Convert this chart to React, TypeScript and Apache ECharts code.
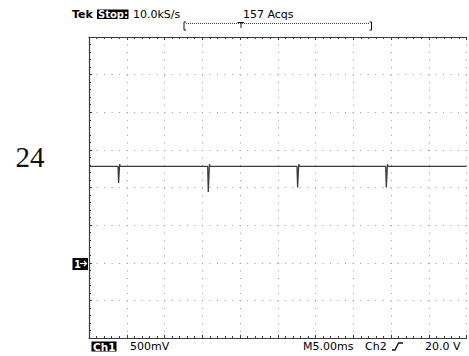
import React, { useEffect, useRef } from "react";
import * as echarts from "echarts";

// Trace samples: time (ms) and Ch1 voltage (V)
const traceTime = [
  0, 3.85, 3.92, 4.05, 4.15,
  15.72, 15.8, 15.95, 16.05,
  27.55, 27.63, 27.78, 27.88,
  39.3, 39.38, 39.53, 39.63,
  50,
];
const traceVolt = [
  1.28, 1.28, 1.06, 1.31, 1.28,
  1.28, 0.94, 1.31, 1.28,
  1.28, 1.0, 1.31, 1.28,
  1.28, 1.0, 1.31, 1.28,
  1.28,
];

const timeMin = 0;
const timeMax = 50; // 10 div x 5.00 ms
const timeStep = 5;
const voltMin = -1;
const voltMax = 3; // 8 div x 500 mV
const voltStep = 0.5;

const headerTexts = ["Tek", "Stop:", "10.0kS/s", "157 Acqs"];
const footerTexts = ["Ch1", "500mV", "M5.00ms", "Ch2", "20.0 V"];
const sideLabel = "24";

const FONT = "DejaVu Sans";
const GRID_COLOR = "#9a9a9a";
const BORDER_COLOR = "#3a3a3a";

export default function App() {
  const ref = useRef<HTMLDivElement>(null);
  useEffect(() => {
    if (!ref.current) return;
    const chart = echarts.init(ref.current, undefined, { renderer: "svg" });
    const dotted = { color: GRID_COLOR, width: 1, type: [1, 6.53] as any };
    const axisCommon = {
      axisLine: { show: true, onZero: false, lineStyle: { color: BORDER_COLOR, width: 1.2 } },
      axisTick: { show: true, inside: true, length: 3, lineStyle: { color: BORDER_COLOR } },
      minorTick: { show: true, splitNumber: 5, length: 2, lineStyle: { color: BORDER_COLOR } },
      axisLabel: { show: false },
    };
    const txt = (x: number, y: number, text: string, extra: any = {}) => ({
      type: "text",
      x,
      y,
      style: {
        text,
        fontFamily: FONT,
        fontSize: 11,
        fill: "#000",
        verticalAlign: "middle",
        ...extra,
      },
    });
    chart.setOption({
      animation: false,
      backgroundColor: "#ffffff",
      grid: { left: 89, top: 37, width: 377.5, height: 301, show: false },
      xAxis: [
        {
          type: "value",
          min: timeMin,
          max: timeMax,
          interval: timeStep,
          position: "bottom",
          ...axisCommon,
          splitLine: { show: true, lineStyle: dotted },
        },
        {
          type: "value",
          min: timeMin,
          max: timeMax,
          interval: timeStep,
          position: "top",
          ...axisCommon,
          splitLine: { show: false },
        },
      ],
      yAxis: [
        {
          type: "value",
          min: voltMin,
          max: voltMax,
          interval: voltStep,
          position: "left",
          ...axisCommon,
          splitLine: { show: true, lineStyle: dotted },
        },
      ],
      series: [
        {
          type: "line",
          xAxisIndex: 0,
          yAxisIndex: 0,
          showSymbol: false,
          symbol: "none",
          lineStyle: { color: "#3c3c3c", width: 1.3 },
          data: traceTime.map((t, i) => [t, traceVolt[i]]),
          z: 5,
        },
      ],
      graphic: [
        // header
        txt(72, 14.5, headerTexts[0], { fontWeight: "bold" }),
        { type: "rect", shape: { x: 97, y: 9.5, width: 31.5, height: 9.5 }, style: { fill: "#000" } },
        txt(98, 14.5, headerTexts[1], { fill: "#fff", fontWeight: "bold", fontSize: 10 }),
        txt(133, 14.5, headerTexts[2]),
        txt(243, 14.5, headerTexts[3]),
        // record bracket
        { type: "polyline", shape: { points: [[186, 22], [184, 22], [184, 30], [186, 30]] }, style: { stroke: "#111", fill: null, lineWidth: 1 } },
        { type: "polyline", shape: { points: [[369.5, 22], [371.5, 22], [371.5, 30], [369.5, 30]] }, style: { stroke: "#111", fill: null, lineWidth: 1 } },
        { type: "line", shape: { x1: 186, y1: 23.5, x2: 369.5, y2: 23.5 }, style: { stroke: "#444", lineWidth: 1, lineDash: [1, 1] } },
        { type: "line", shape: { x1: 237.5, y1: 22.5, x2: 244, y2: 22.5 }, style: { stroke: "#111", lineWidth: 1 } },
        { type: "line", shape: { x1: 241, y1: 22.5, x2: 241, y2: 28 }, style: { stroke: "#111", lineWidth: 1 } },
        // footer
        { type: "rect", shape: { x: 91.5, y: 341.5, width: 25, height: 10 }, style: { fill: "#000" } },
        txt(93, 346.5, footerTexts[0], { fill: "#fff", fontWeight: "bold", fontSize: 10.5 }),
        txt(130, 346.5, footerTexts[1]),
        txt(303, 346.5, footerTexts[2]),
        txt(365, 346.5, footerTexts[3]),
        { type: "polyline", shape: { points: [[392, 350], [395, 350], [398.5, 343], [403, 343]] }, style: { stroke: "#111", fill: null, lineWidth: 1.3 } },
        txt(425, 346.5, footerTexts[4]),
        // channel ground marker
        { type: "rect", shape: { x: 72.5, y: 258, width: 15.5, height: 12 }, style: { fill: "#000" } },
        txt(74, 264, "1", { fill: "#fff", fontWeight: "bold", fontSize: 10 }),
        { type: "line", shape: { x1: 80, y1: 263.5, x2: 86.5, y2: 263.5 }, style: { stroke: "#fff", lineWidth: 1.2 } },
        { type: "polyline", shape: { points: [[84, 261], [86.5, 263.5], [84, 266]] }, style: { stroke: "#fff", fill: null, lineWidth: 1.2 } },
        // side label
        {
          type: "text",
          x: 15.5,
          y: 157,
          style: {
            text: sideLabel,
            fontFamily: "Liberation Serif",
            fontSize: 29,
            fill: "#111",
            verticalAlign: "middle",
          },
        },
      ],
    });
    return () => chart.dispose();
  }, []);
  return (
    <div
      ref={ref}
      style={{ position: "fixed", left: 0, top: 0, width: 469, height: 356, background: "#fff" }}
    />
  );
}
